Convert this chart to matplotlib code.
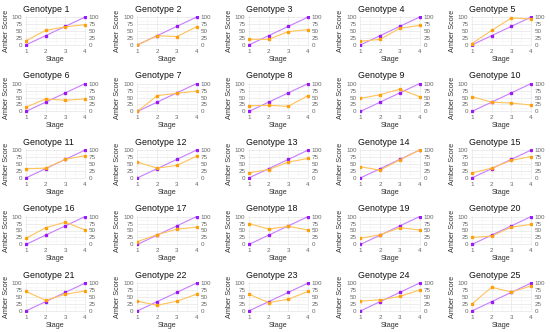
import numpy as np
import matplotlib
matplotlib.use("Agg")
import matplotlib.pyplot as plt

plt.rcParams["font.family"] = ["Liberation Sans", "DejaVu Sans"]

stages = [1, 2, 3, 4]
reference = [0, 33.3, 66.7, 100]  # purple line, same in every panel

# orange line, one row per genotype
amber = [
    [15, 52, 65, 73],
    [0, 33, 30, 65],
    [20, 20, 48, 55],
    [13, 20, 60, 70],
    [5, 52, 97, 93],
    [15, 45, 40, 45],
    [0, 57, 65, 73],
    [20, 22, 18, 57],
    [47, 60, 80, 53],
    [53, 33, 30, 23],
    [33, 35, 67, 80],
    [57, 35, 45, 78],
    [18, 30, 57, 70],
    [40, 28, 65, 100],
    [18, 35, 63, 77],
    [22, 60, 80, 52],
    [10, 35, 55, 62],
    [75, 55, 65, 52],
    [22, 35, 60, 52],
    [25, 30, 62, 72],
    [70, 38, 60, 72],
    [35, 20, 35, 60],
    [60, 30, 42, 70],
    [35, 40, 52, 75],
    [25, 85, 68, 90],
]
yticks = [0, 25, 50, 75, 100]
yminor = [12.5, 37.5, 62.5, 87.5]
xminor = [1.5, 2.5, 3.5]

W, H = 550, 332
fig = plt.figure(figsize=(W / 100, H / 100), dpi=100)

for i, vals in enumerate(amber):
    r, c = divmod(i, 5)
    left = 25 + c * 111.5
    top = 16 + r * 66.5
    ax = fig.add_axes([left / W, 1 - (top + 30) / H, 61 / W, 30 / H])
    ax.plot(stages, reference, color="#c77dff", lw=0.8, marker="s", ms=2,
            mfc="#9b19f5", mec="#9b19f5", zorder=3)
    ax.plot(stages, vals, color="#ffc35a", lw=0.8, marker="s", ms=2,
            mfc="#ff9f0a", mec="#ff9f0a", zorder=3)
    ax.set_xlim(0.95, 4.05)
    ax.set_ylim(-4, 104)
    ax.set_xticks(stages)
    ax.set_xticks(xminor, minor=True)
    ax.set_yticks(yticks)
    ax.set_yticks(yminor, minor=True)
    ax.grid(True, which="major", color="#e6e6e6", lw=0.5)
    ax.grid(True, which="minor", color="#f3f3f3", lw=0.4)
    ax.set_axisbelow(True)
    for s in ax.spines.values():
        s.set_visible(False)
    ax.tick_params(which="both", length=0, labelsize=4.5, colors="#666666",
                   pad=2, labelright=True)
    ax.set_xlabel("Stage", fontsize=5.2, color="#333333", labelpad=1.5)
    ax.set_ylabel("Amber Score", fontsize=5.2, color="#333333", labelpad=1.5)
    ax.set_title(f"Genotype {i + 1}", fontsize=6.4, loc="left", x=-0.03,
                 pad=3, color="#111111")

plt.savefig("out.png", dpi=100)
